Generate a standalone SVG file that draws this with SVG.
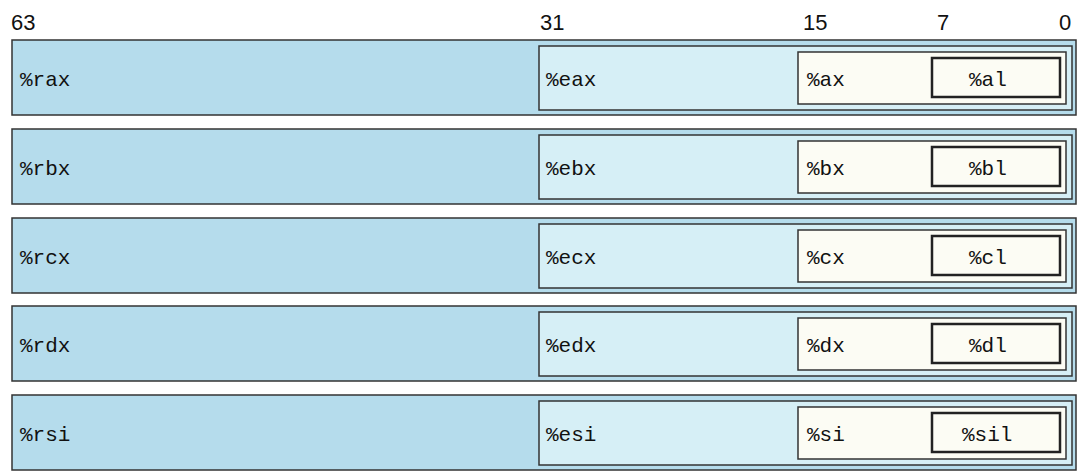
<svg xmlns="http://www.w3.org/2000/svg" width="1086" height="476" viewBox="0 0 1086 476">
<style>
.o{fill:#b5dcec;stroke:#333;stroke-width:1.5}
.e{fill:#d6eff6;stroke:#333;stroke-width:1.5}
.x{fill:#fcfcf4;stroke:#333;stroke-width:1.5}
.l{fill:#fcfcf4;stroke:#222;stroke-width:2.5}
.t{font-family:"Liberation Mono",monospace;font-size:21px;fill:#111}
.h{font-family:"Liberation Sans",sans-serif;font-size:22px;fill:#111}
</style>
<g id="header">
<text class="h" x="11" y="30">63</text>
<text class="h" x="540" y="30">31</text>
<text class="h" x="803" y="30">15</text>
<text class="h" x="937" y="30">7</text>
<text class="h" x="1059" y="30">0</text>
</g>
<g id="rax" transform="translate(0,40)">
<rect class="o" x="12" y="0" width="1064" height="75"/><rect class="e" x="539" y="6" width="533" height="64"/><rect class="x" x="798" y="12" width="268" height="52"/><rect class="l" x="932" y="18" width="128" height="39"/>
<text class="t" x="20" y="46">%rax</text><text class="t" x="546" y="46">%eax</text><text class="t" x="807" y="46">%ax</text><text class="t" x="969" y="46">%al</text></g>
<g id="rbx" transform="translate(0,129)">
<rect class="o" x="12" y="0" width="1064" height="75"/><rect class="e" x="539" y="6" width="533" height="64"/><rect class="x" x="798" y="12" width="268" height="52"/><rect class="l" x="932" y="18" width="128" height="39"/>
<text class="t" x="20" y="46">%rbx</text><text class="t" x="546" y="46">%ebx</text><text class="t" x="807" y="46">%bx</text><text class="t" x="969" y="46">%bl</text></g>
<g id="rcx" transform="translate(0,218)">
<rect class="o" x="12" y="0" width="1064" height="75"/><rect class="e" x="539" y="6" width="533" height="64"/><rect class="x" x="798" y="12" width="268" height="52"/><rect class="l" x="932" y="18" width="128" height="39"/>
<text class="t" x="20" y="46">%rcx</text><text class="t" x="546" y="46">%ecx</text><text class="t" x="807" y="46">%cx</text><text class="t" x="969" y="46">%cl</text></g>
<g id="rdx" transform="translate(0,306)">
<rect class="o" x="12" y="0" width="1064" height="75"/><rect class="e" x="539" y="6" width="533" height="64"/><rect class="x" x="798" y="12" width="268" height="52"/><rect class="l" x="932" y="18" width="128" height="39"/>
<text class="t" x="20" y="46">%rdx</text><text class="t" x="546" y="46">%edx</text><text class="t" x="807" y="46">%dx</text><text class="t" x="969" y="46">%dl</text></g>
<g id="rsi" transform="translate(0,395)">
<rect class="o" x="12" y="0" width="1064" height="75"/><rect class="e" x="539" y="6" width="533" height="64"/><rect class="x" x="798" y="12" width="268" height="52"/><rect class="l" x="932" y="18" width="128" height="39"/>
<text class="t" x="20" y="46">%rsi</text><text class="t" x="546" y="46">%esi</text><text class="t" x="807" y="46">%si</text><text class="t" x="962" y="46">%sil</text></g>
<g id="connectors"/>
</svg>
